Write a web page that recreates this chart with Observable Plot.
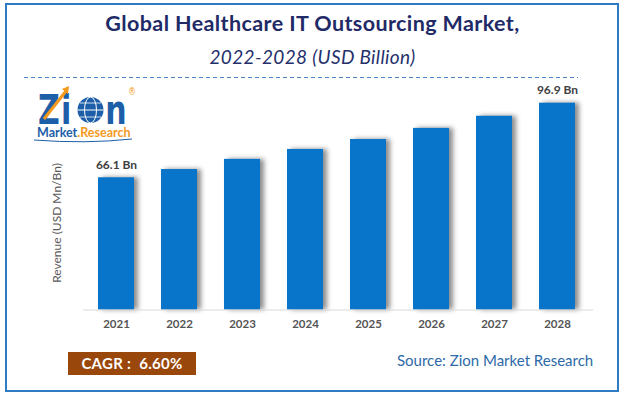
<!DOCTYPE html>
<html><head><meta charset="utf-8">
<script src="https://cdn.jsdelivr.net/npm/d3@7"></script>
<script src="https://cdn.jsdelivr.net/npm/@observablehq/plot@0.6"></script>
<style>
body{margin:0;background:#fff;font-family:Lato,"Open Sans",sans-serif;}
#wrap{position:relative;width:624px;height:400px;overflow:hidden;background:#fff;}
#frame{position:absolute;left:5px;top:3px;width:614px;height:389px;border:2px solid #2f7cc5;box-sizing:border-box;}
.t{position:absolute;left:0;width:625px;text-align:center;line-height:1;white-space:nowrap;color:#1f2a66;}
#title{top:12.6px;font-size:21.5px;font-weight:bold;letter-spacing:0.4px;}
#subtitle{top:47.1px;font-size:19px;font-style:italic;color:#25306b;letter-spacing:0.35px;}
#dash{position:absolute;left:24px;top:77px;width:554px;height:1px;background:repeating-linear-gradient(to right,#4f86c8 0 4px,transparent 4px 7px);}
#chart{position:absolute;left:0;top:80px;}
#ylab{position:absolute;left:57px;top:223px;transform:translate(-50%,-50%) rotate(-90deg);font-size:12px;color:#595959;white-space:nowrap;line-height:1;}
#cagr{position:absolute;left:68px;top:352px;width:128px;height:23px;background:#9a470b;color:#fff;font-weight:bold;font-size:15px;letter-spacing:0.3px;line-height:23px;text-align:center;white-space:pre;}
#source{position:absolute;left:397px;top:353.4px;font-size:15px;color:#2e6aa8;line-height:1;white-space:nowrap;}
#logo{position:absolute;left:30px;top:80px;}
#chart svg g[aria-label^="x-axis"] text{font-weight:bold;fill:#555;}
#chart svg g[aria-label="bar"] rect{filter:drop-shadow(4px 0px 2.5px rgba(0,0,0,0.45));}
</style></head>
<body>
<div id="wrap">
  <div id="frame"></div>
  <div class="t" id="title">Global Healthcare IT Outsourcing Market,</div>
  <div class="t" id="subtitle">2022-2028 (USD Billion)</div>
  <div id="dash"></div>
  <svg id="logo" width="115" height="66" viewBox="0 0 115 66">
    <text transform="scale(0.75,1)" y="44" font-family="DejaVu Sans" font-weight="bold" font-size="40" fill="#1d5ea8"><tspan x="10.7">Z</tspan><tspan x="41.3">i</tspan><tspan x="100.5">n</tspan><tspan x="131" y="15" font-size="10" fill="#f39a1e" font-weight="normal">®</tspan></text>
    <circle cx="60.5" cy="30" r="13" fill="#1d5ea8"/>
    <ellipse cx="60.5" cy="30" rx="6" ry="13" fill="none" stroke="#fff" stroke-width="1"/>
    <line x1="47.5" y1="30" x2="73.5" y2="30" stroke="#fff" stroke-width="1"/>
    <line x1="50" y1="23" x2="71" y2="23" stroke="#fff" stroke-width="0.8"/>
    <line x1="50" y1="37" x2="71" y2="37" stroke="#fff" stroke-width="0.8"/>
    <line x1="14" y1="39" x2="36" y2="11" stroke="#f39a1e" stroke-width="3"/>
    <path d="M32,9 L39,6 L38,14 Z" fill="#f39a1e"/>
    <text x="7" y="57" font-family="Lato" font-weight="bold" font-size="12.5" fill="#1d5ea8">Market<tspan fill="#f39a1e">.Research</tspan></text>
    <path d="M4,60 Q55,64 102,59" stroke="#1d5ea8" stroke-width="1" fill="none"/>
  </svg>
  <div id="chart"></div>
  <div id="ylab">Revenue (USD Mn/Bn)</div>
  <div id="cagr">CAGR :  6.60%</div>
  <div id="source">Source: Zion Market Research</div>
</div>
<script>
const years = ["2021","2022","2023","2024","2025","2026","2027","2028"];
const revenue = [66.1, 69.5, 73.7, 77.8, 81.9, 86.5, 91.5, 96.9];
const valueLabels = ["66.1 Bn","","","","","","","96.9 Bn"];
const yBase = 11.5;

const data = years.map((y, i) => ({year: y, value: revenue[i], label: valueLabels[i]}));

const chart = Plot.plot({
  width: 624,
  height: 260,
  marginLeft: 83,
  marginRight: 31,
  marginTop: 22.7,
  marginBottom: 30.5,
  style: {fontFamily: "Lato, 'Open Sans', sans-serif", fontSize: "11.5px", background: "transparent"},
  x: {domain: years, paddingInner: 0.428, paddingOuter: 0.234, align: 0.44, label: null, tickSize: 0, tickPadding: 10},
  y: {domain: [yBase, 96.9], axis: null},
  marks: [
    Plot.barY(data, {x: "year", y1: yBase, y2: "value", fill: "#0875ca"}),
    Plot.ruleY([yBase], {stroke: "#d9d9d9", strokeWidth: 1}),
    Plot.text(data.filter(d => d.label), {x: "year", y: "value", text: "label", dy: -13, fontWeight: "bold", fill: "#404040", fontSize: 12})
  ]
});
document.getElementById("chart").appendChild(chart);
</script>
</body></html>
